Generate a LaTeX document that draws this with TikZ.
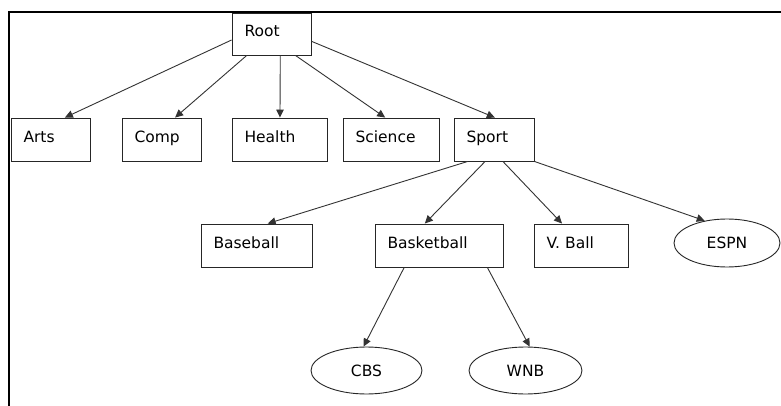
\documentclass[tikz,border=0pt]{standalone}
\usepackage{fontspec}
\setmainfont{DejaVu Sans}
\usetikzlibrary{arrows.meta,shapes.geometric,calc}
\tikzset{
  box/.style={draw=black!85, line width=0.9pt, rectangle, inner xsep=12.5pt, inner ysep=0pt,
    minimum height=43pt, text height=11pt, text depth=5pt, align=left,
    font=\fontsize{15.5pt}{18pt}\selectfont},
  oval/.style={draw=black!85, line width=0.9pt, ellipse, inner sep=0pt,
    font=\fontsize{15.5pt}{18pt}\selectfont},
  link/.style={draw=black!80, line width=0.9pt, -{Triangle[length=8pt,width=7.5pt]}},
  frame/.style={line width=2pt, draw=black}
}
\begin{document}
\begin{tikzpicture}[x=1pt,y=-1pt]
  \fill[white] (0,0) rectangle (781,406);
  \useasboundingbox (0,0) rectangle (781,406);
  % outer frame: left and top edges only
  \draw[frame] (9,407) -- (9,12) -- (782,12);

  % level 0
  \node[box, text width=54pt, minimum height=42pt] (root) at (271.5,34) {Root};
  % level 1
  \node[box, text width=54pt]  (arts)    at (50.5,139.5)  {Arts};
  \node[box, text width=54pt]  (comp)    at (161.5,139.5) {Comp};
  \node[box, text width=70pt]  (health)  at (279.5,139.5) {Health};
  \node[box, text width=71pt]  (science) at (391,139.5)   {Science};
  \node[box, text width=55pt]  (sport)   at (494,139.5)   {Sport};
  % level 2
  \node[box, text width=86pt]  (baseball)   at (256.5,245.5) {Baseball};
  \node[box, text width=103pt] (basketball) at (439,245.5)   {Basketball};
  \node[box, text width=69pt]  (vball)      at (581,245.5)   {V. Ball};
  \node[oval, minimum width=106pt, minimum height=48pt] (espn) at (727,243) {ESPN};
  % level 3
  \node[oval, minimum width=111pt, minimum height=47pt] (cbs) at (366.5,370.5) {CBS};
  \node[oval, minimum width=113pt, minimum height=47pt] (wnb) at (525.5,370.5) {WNB};

  % connectors from Root
  \draw[link] ($(root.north west)!0.64!(root.south west)$) -- ($(arts.north west)!0.68!(arts.north east)$);
  \draw[link] ($(root.south west)!0.19!(root.south east)$) -- ($(comp.north west)!0.67!(comp.north east)$);
  \draw[link] ($(root.south west)!0.61!(root.south east)$) -- ($(health.north west)!0.505!(health.north east)$);
  \draw[link] ($(root.south west)!0.80!(root.south east)$) -- ($(science.north west)!0.44!(science.north east)$);
  \draw[link] ($(root.north east)!0.67!(root.south east)$) -- ($(sport.north west)!0.51!(sport.north east)$);
  % connectors from Sport
  \draw[link] ($(sport.south west)!0.175!(sport.south east)$) -- ($(baseball.north west)!0.60!(baseball.north east)$);
  \draw[link] ($(sport.south west)!0.39!(sport.south east)$) -- ($(basketball.north west)!0.39!(basketball.north east)$);
  \draw[link] ($(sport.south west)!0.61!(sport.south east)$) -- ($(vball.north west)!0.30!(vball.north east)$);
  \draw[link] (sport.south east) -- (espn.135);
  % connectors from Basketball
  \draw[link] ($(basketball.south west)!0.23!(basketball.south east)$) -- (cbs.97);
  \draw[link] ($(basketball.south west)!0.875!(basketball.south east)$) -- (wnb.80);
\end{tikzpicture}
\end{document}
